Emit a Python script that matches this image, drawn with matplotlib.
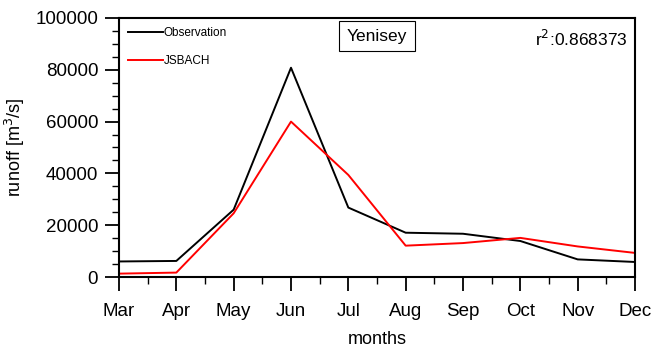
import matplotlib.pyplot as plt
from matplotlib.ticker import MultipleLocator

plt.rcParams["font.family"] = ["Liberation Sans", "DejaVu Sans"]

months = ["Mar", "Apr", "May", "Jun", "Jul", "Aug", "Sep", "Oct", "Nov", "Dec"]
observation = [6000, 6200, 26000, 80800, 26800, 17100, 16700, 13900, 6800, 5800]
jsbach = [1300, 1700, 24600, 60000, 39400, 12100, 13100, 15100, 11800, 9300]
r2 = 0.868373

fig = plt.figure(figsize=(6.52, 3.49), dpi=100)
ax = fig.add_axes([119 / 652, 1 - 277 / 349, (635 - 119) / 652, (277 - 18) / 349])

x = list(range(len(months)))
ax.plot(x, observation, color="black", lw=1.4, label="Observation")
ax.plot(x, jsbach, color="red", lw=1.4, label="JSBACH")

ax.set_xlim(0, len(months) - 1)
ax.set_ylim(0, 100000)
ax.set_xticks(x)
ax.set_xticklabels(months)
ax.xaxis.set_minor_locator(MultipleLocator(0.5))
ax.yaxis.set_major_locator(MultipleLocator(20000))
ax.yaxis.set_minor_locator(MultipleLocator(5000))
ax.tick_params(which="major", direction="out", length=10, width=1.3, labelsize=13.5)
ax.tick_params(axis="x", which="major", pad=9)
ax.tick_params(axis="y", which="major", pad=5)
ax.tick_params(which="minor", direction="out", length=5, width=1.0)
for s in ax.spines.values():
    s.set_linewidth(1.5)

ax.set_xlabel("months", fontsize=13, labelpad=8)
ax.set_ylabel("runoff [m$^3$/s]", fontsize=13, labelpad=6)

ax.legend(loc="upper left", frameon=False, fontsize=8.5, handlelength=3.0,
          handletextpad=0.05, labelspacing=1.4, borderaxespad=0.35,
          bbox_to_anchor=(0.0, 1.0))

ax.text(0.5, 0.93, "Yenisey", transform=ax.transAxes, ha="center", va="center",
        fontsize=12.5, bbox=dict(boxstyle="square,pad=0.45", fc="white", ec="black", lw=0.8))
ax.text(0.985, 0.92, f"r$^2$:{r2:.6f}", transform=ax.transAxes, ha="right",
        va="center", fontsize=12.5)

fig.savefig("out.png", dpi=100, facecolor="white")
